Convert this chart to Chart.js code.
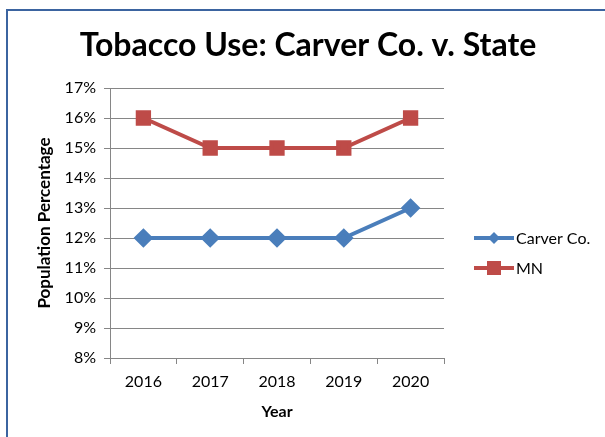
<!DOCTYPE html>
<html lang="en">
<head>
  <meta charset="UTF-8">
  <title>Tobacco Use: Carver Co. v. State</title>
  <script src="https://cdn.jsdelivr.net/npm/chart.js"></script>
  <style>
    body {
      margin: 0;
      padding: 0;
      background: #ffffff;
    }
    #wrap {
      width: 605px;
      height: 437px;
    }
  </style>
</head>
<body>
  <div id="wrap">
    <canvas id="tobaccoChart" width="605" height="437"></canvas>
  </div>

  <script>
    // Datos
    const years = ['2016', '2017', '2018', '2019', '2020'];
    const carverCo = [12, 12, 12, 12, 13];
    const mn = [16, 15, 15, 15, 16];
    const yTicks = [8, 9, 10, 11, 12, 13, 14, 15, 16, 17];

    const FONT = 'Lato, "Liberation Sans", sans-serif';
    const BLUE = '#4a7ebb';
    const RED = '#be4b48';
    const GRID = '#868686';

    // Borde azul, titulo y leyenda dibujados a mano
    const decor = {
      id: 'decor',
      beforeDraw(chart) {
        const ctx = chart.ctx;
        ctx.save();
        ctx.fillStyle = '#ffffff';
        ctx.fillRect(0, 0, chart.width, chart.height);
        ctx.strokeStyle = '#3b64a0';
        ctx.lineWidth = 2;
        ctx.beginPath();
        ctx.moveTo(7, chart.height);
        ctx.lineTo(7, 10);
        ctx.lineTo(chart.width, 10);
        ctx.stroke();
        ctx.restore();
      },
      afterDraw(chart) {
        const ctx = chart.ctx;
        ctx.save();
        ctx.fillStyle = '#000000';
        ctx.font = 'bold 32px ' + FONT;
        ctx.textAlign = 'center';
        ctx.textBaseline = 'middle';
        ctx.fillText('Tobacco Use: Carver Co. v. State', 308, 46);

        // leyenda
        const items = chart.data.datasets.map(ds => ({ label: ds.label, color: ds.borderColor, style: ds.pointStyle }));
        items.forEach((it, i) => {
          const y = 238 + i * 30;
          ctx.strokeStyle = it.color;
          ctx.lineWidth = 4;
          ctx.beginPath();
          ctx.moveTo(474, y);
          ctx.lineTo(514, y);
          ctx.stroke();
          ctx.fillStyle = it.color;
          if (it.style === 'rectRot') {
            ctx.beginPath();
            ctx.moveTo(494, y - 6);
            ctx.lineTo(500, y);
            ctx.lineTo(494, y + 6);
            ctx.lineTo(488, y);
            ctx.closePath();
            ctx.fill();
          } else {
            ctx.fillRect(487, y - 7, 14, 14);
          }
          ctx.fillStyle = '#000000';
          ctx.font = '16px ' + FONT;
          ctx.textAlign = 'left';
          ctx.fillText(it.label, 516, y + 1);
        });
        ctx.restore();
      }
    };

    new Chart(document.getElementById('tobaccoChart'), {
      type: 'line',
      data: {
        labels: years,
        datasets: [{
          label: 'Carver Co.',
          data: carverCo,
          borderColor: BLUE,
          backgroundColor: BLUE,
          borderWidth: 4,
          pointStyle: 'rectRot',
          pointRadius: 7,
          pointHoverRadius: 7,
          tension: 0
        }, {
          label: 'MN',
          data: mn,
          borderColor: RED,
          backgroundColor: RED,
          borderWidth: 4,
          pointStyle: 'rect',
          pointRadius: 8,
          pointHoverRadius: 8,
          tension: 0
        }]
      },
      options: {
        responsive: false,
        animation: false,
        devicePixelRatio: 1,
        layout: {
          padding: { top: 88, right: 161, bottom: 10, left: 34 }
        },
        plugins: {
          legend: { display: false },
          title: { display: false },
          tooltip: { enabled: false }
        },
        scales: {
          x: {
            offset: true,
            grid: {
              offset: true,
              drawOnChartArea: false,
              drawTicks: true,
              tickLength: 6,
              color: GRID
            },
            border: { display: true, color: GRID, width: 1 },
            ticks: {
              color: '#000000',
              padding: 8,
              font: { family: FONT, size: 16 }
            },
            title: {
              display: true,
              text: 'Year',
              color: '#000000',
              font: { family: FONT, size: 16, weight: 'bold' },
              padding: { top: 4, bottom: 6 }
            },
            afterFit(scale) { scale.height = 437 - 358 - 10; }
          },
          y: {
            min: 8,
            max: 17,
            afterBuildTicks(scale) {
              scale.ticks = yTicks.map(v => ({ value: v }));
            },
            grid: {
              color: GRID,
              drawTicks: true,
              tickLength: 6
            },
            border: { display: true, color: GRID, width: 1 },
            ticks: {
              color: '#000000',
              padding: 8,
              font: { family: FONT, size: 16 },
              callback: v => v + '%'
            },
            title: {
              display: true,
              text: 'Population Percentage',
              color: '#000000',
              font: { family: FONT, size: 17, weight: 'bold' },
              padding: { top: 0, bottom: 4 }
            },
            afterFit(scale) { scale.width = 110 - 34; }
          }
        }
      },
      plugins: [decor]
    });
  </script>
</body>
</html>
